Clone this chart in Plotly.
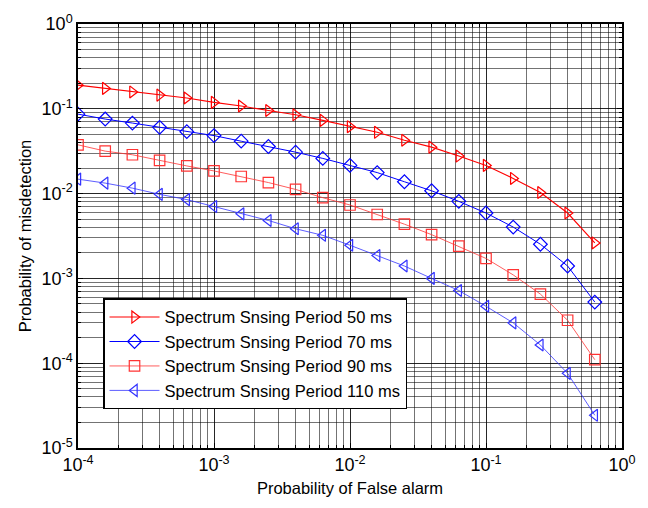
import plotly.graph_objects as go

# Probability of false alarm: 10^-4 ... 10^-0.2 in 0.2-decade steps
pfa = [1.0e-4, 1.585e-4, 2.512e-4, 3.981e-4, 6.310e-4,
       1.0e-3, 1.585e-3, 2.512e-3, 3.981e-3, 6.310e-3,
       1.0e-2, 1.585e-2, 2.512e-2, 3.981e-2, 6.310e-2,
       1.0e-1, 1.585e-1, 2.512e-1, 3.981e-1, 6.310e-1]

pmd_50 = [0.190, 0.174, 0.158, 0.145, 0.134, 0.119, 0.108, 0.0955, 0.0849, 0.073,
          0.0615, 0.0528, 0.0426, 0.0353, 0.0277, 0.0215, 0.0151, 0.0103, 0.0059, 0.00262]
pmd_70 = [0.0865, 0.0757, 0.0679, 0.0604, 0.0538, 0.0483, 0.0415, 0.0359, 0.0308, 0.026,
          0.0215, 0.0177, 0.0138, 0.0108, 0.0081, 0.0059, 0.00403, 0.00253, 0.0014, 0.000526]
pmd_90 = [0.0376, 0.0317, 0.0287, 0.0246, 0.0212, 0.0185, 0.0159, 0.0135, 0.0112, 0.00895,
          0.00734, 0.00567, 0.00436, 0.00328, 0.0024, 0.00172, 0.0011, 0.000653, 0.000321, 0.00011]
pmd_110 = [0.0148, 0.0133, 0.0116, 0.0098, 0.0085, 0.00703, 0.00577, 0.00482, 0.00385, 0.00322,
           0.00246, 0.00186, 0.0014, 0.001, 0.00072, 0.000469, 0.000299, 0.000164, 0.0000759, 0.0000243]

names = ["Spectrum Snsing Period 50 ms", "Spectrum Snsing Period 70 ms",
         "Spectrum Snsing Period 90 ms", "Spectrum Snsing Period 110 ms"]

x_exps = [-4, -3, -2, -1, 0]
y_exps = [-5, -4, -3, -2, -1, 0]
x_tickvals = [10.0 ** e for e in x_exps]
y_tickvals = [10.0 ** e for e in y_exps]
x_ticktext = ["10<sup>%d</sup>" % e for e in x_exps]
y_ticktext = ["10<sup>%d</sup>" % e for e in y_exps]
x_minor = [m * 10.0 ** e for e in x_exps[:-1] for m in range(2, 10)]
y_minor = [m * 10.0 ** e for e in y_exps[:-1] for m in range(2, 10)]

series = [pmd_50, pmd_70, pmd_90, pmd_110]
colors = ["#ff0000", "#0000ff", "#ff3333", "#3333ff"]
widths = [1.1, 1.0, 0.8, 0.8]
symbols = ["triangle-right-open", "diamond-open", "square-open", "triangle-left-open"]

fig = go.Figure()
for nm, ys, c, w, s in zip(names, series, colors, widths, symbols):
    fig.add_trace(go.Scatter(
        x=pfa, y=ys, name=nm, mode="lines+markers",
        line=dict(color=c, width=w),
        marker=dict(symbol=s, size=10.5, color=c, line=dict(color=c, width=1.2)),
    ))

FONT = "Liberation Sans, Arial"

def axis(tv, tt, mv, rng, title, standoff):
    return dict(
        type="log", range=rng, tickmode="array", tickvals=tv, ticktext=tt,
        showline=True, linecolor="black", linewidth=1.5, mirror="allticks",
        ticks="inside", ticklen=5, tickcolor="black",
        showgrid=True, gridcolor="rgba(0,0,0,0.85)", gridwidth=1,
        zeroline=False,
        tickfont=dict(family=FONT, size=18, color="black"),
        minor=dict(tickmode="array", tickvals=mv, showgrid=True,
                   gridcolor="rgba(0,0,0,0.55)", gridwidth=1,
                   ticks="inside", ticklen=3, tickcolor="black"),
        title=dict(text=title, standoff=standoff, font=dict(family=FONT, size=16.5)),
    )

fig.update_layout(
    width=648, height=508,
    margin=dict(l=78, r=23, t=20, b=60),
    paper_bgcolor="white", plot_bgcolor="white",
    font=dict(family=FONT, size=14, color="black"),
    xaxis=axis(x_tickvals, x_ticktext, x_minor, [-4, 0], "Probability of False alarm", 8),
    yaxis=axis(y_tickvals, y_ticktext, y_minor, [-5, 0], "Probability of misdetection", 6),
    legend=dict(x=0.046, y=0.353, xanchor="left", yanchor="top",
                bgcolor="white", bordercolor="black", borderwidth=1.5,
                font=dict(family=FONT, size=16.5, color="black"),
                itemwidth=50, tracegroupgap=0),
    showlegend=True,
)

fig.write_html("out.html")
